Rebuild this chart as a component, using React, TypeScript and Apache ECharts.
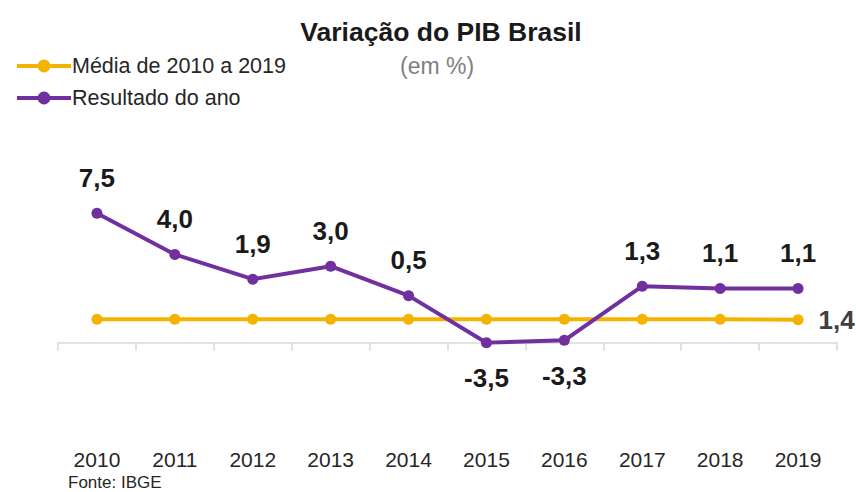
import React, { useEffect, useRef } from "react";
import * as echarts from "echarts";

const years = ["2010", "2011", "2012", "2013", "2014", "2015", "2016", "2017", "2018", "2019"];
const resultado = [7.5, 4.0, 1.9, 3.0, 0.5, -3.5, -3.3, 1.3, 1.1, 1.1];
const media = [1.4, 1.4, 1.4, 1.4, 1.4, 1.4, 1.4, 1.4, 1.4, 1.36];
const seriesNames = ["Média de 2010 a 2019", "Resultado do ano"];
const titleText = "Variação do PIB Brasil";
const subtitleText = "(em %)";
const sourceText = "Fonte: IBGE";

const FONT = "'Liberation Sans', Arial, sans-serif";
const fmt = (v: number) => v.toFixed(1).replace(".", ",");

export default function App() {
  const ref = useRef<HTMLDivElement>(null);
  useEffect(() => {
    if (!ref.current) return;
    const chart = echarts.init(ref.current, undefined, { renderer: "svg" });
    const yellow = "#F5B301";
    const purple = "#7030A0";
    chart.setOption({
      animation: false,
      backgroundColor: "#ffffff",
      textStyle: { fontFamily: FONT },
      title: {
        text: titleText,
        left: 436,
        top: 13,
        textAlign: "center",
        textStyle: { fontFamily: FONT, fontSize: 26.5, fontWeight: "bold", color: "#1a1a1a" },
      },
      legend: {
        orient: "vertical",
        left: 10,
        top: 50,
        itemWidth: 54,
        itemHeight: 16,
        itemGap: 10,
        data: seriesNames,
        lineStyle: { width: 4 },
        textStyle: { fontFamily: FONT, fontSize: 21.5, lineHeight: 21, color: "#262626", padding: [0, 0, 0, -4] },
      },
      graphic: [
        {
          type: "text",
          left: 400,
          top: 54,
          style: { text: subtitleText, font: `23px ${FONT}`, fill: "#808080" },
        },
        {
          type: "text",
          left: 68,
          top: 474,
          style: { text: sourceText, font: `17px ${FONT}`, fill: "#262626" },
        },
      ],
      grid: { left: 58, right: 19, top: 207.4, bottom: 149.3, containLabel: false },
      xAxis: {
        type: "category",
        data: years,
        boundaryGap: true,
        axisLine: { onZero: false, lineStyle: { color: "#D9D9D9", width: 1.5 } },
        axisTick: { show: true, length: 8, lineStyle: { color: "#D9D9D9", width: 1.5 } },
        axisLabel: { margin: 106, fontFamily: FONT, fontSize: 21, color: "#262626" },
        splitLine: { show: false },
      },
      yAxis: [
        { type: "value", min: -3.5, max: 8, show: false, splitLine: { show: false } },
        { type: "value", min: -0.6, max: 10.9, show: false, splitLine: { show: false } },
      ],
      series: [
        {
          name: seriesNames[0],
          type: "line",
          yAxisIndex: 1,
          data: media.map((v, i) =>
            i === media.length - 1
              ? {
                  value: v,
                  label: {
                    show: true,
                    position: "right",
                    distance: 15,
                    formatter: (p: any) => fmt(p.value),
                    fontFamily: FONT,
                    fontSize: 26,
                    fontWeight: "bold",
                    color: "#404040",
                  },
                }
              : v
          ),
          symbol: "circle",
          symbolSize: 11,
          lineStyle: { color: yellow, width: 4 },
          itemStyle: { color: yellow },
          label: { show: false },
          z: 2,
        },
        {
          name: seriesNames[1],
          type: "line",
          yAxisIndex: 0,
          data: resultado.map((v) => ({
            value: v,
            label: { position: v < 0 ? "bottom" : "top" },
          })),
          symbol: "circle",
          symbolSize: 11,
          lineStyle: { color: purple, width: 4 },
          itemStyle: { color: purple },
          label: {
            show: true,
            distance: 17,
            formatter: (p: any) => fmt(p.value),
            fontFamily: FONT,
            fontSize: 26,
            fontWeight: "bold",
            color: "#1a1a1a",
          },
          z: 3,
        },
      ],
    });
    return () => chart.dispose();
  }, []);
  return (
    <div
      ref={ref}
      style={{ position: "fixed", left: 0, top: 0, width: 856, height: 492, background: "#fff" }}
    />
  );
}
